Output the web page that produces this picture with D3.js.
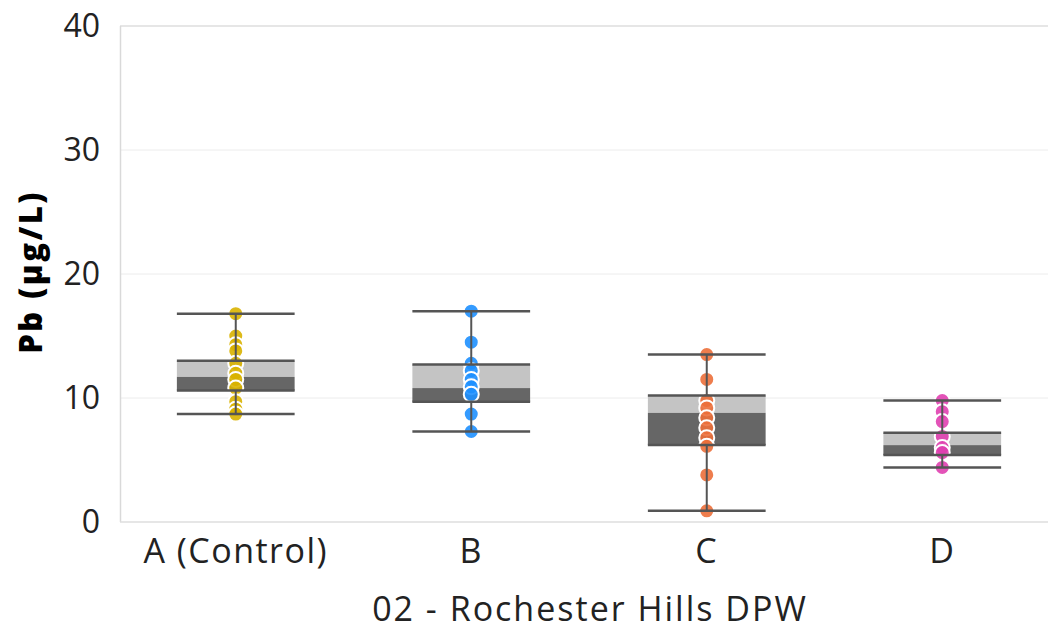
<!DOCTYPE html>
<html>
<head>
<meta charset="utf-8">
<script src="https://cdn.jsdelivr.net/npm/d3@7"></script>
<style>
  html, body { margin: 0; padding: 0; background: #fff; }
  svg { display: block; font-family: "Open Sans", "Noto Sans", sans-serif; }
</style>
</head>
<body>
<svg id="chart" width="1048" height="631"></svg>
<script>
// Sites along the x axis
const categories = ["A (Control)", "B", "C", "D"];
const pointColors = ["#d9b300", "#1e90ff", "#ec6f3a", "#e040b0"];

// Box summary per site: [min, q1, median, q3, max] in µg/L
const boxMin    = [8.7, 7.3, 0.9, 4.4];
const boxQ1     = [10.6, 9.7, 6.2, 5.4];
const boxMedian = [11.7, 10.8, 8.8, 6.2];
const boxQ3     = [13.0, 12.7, 10.2, 7.2];
const boxMax    = [16.8, 17.0, 13.5, 9.8];

// Individual samples per site (µg/L)
const samplesA = [16.8, 15.0, 14.3, 13.8, 12.8, 12.0, 11.5, 10.8, 9.7, 9.1, 8.7];
const samplesB = [17.0, 14.5, 12.8, 12.2, 11.5, 10.9, 10.3, 8.7, 7.3];
const samplesC = [13.5, 11.5, 9.8, 9.2, 8.4, 7.6, 6.8, 6.1, 3.8, 0.9];
const samplesD = [9.8, 8.9, 8.1, 6.9, 6.0, 5.6, 4.4];
const samples = [samplesA, samplesB, samplesC, samplesD];

// Axis ticks
const yTicks = [0, 10, 20, 30, 40];
const yTitle = "Pb (µg/L)";
const xTitle = "02 - Rochester Hills DPW";

const svg = d3.select("#chart");

const x = d3.scaleBand().domain(categories).range([118, 1060]).padding(0);
const y = d3.scaleLinear().domain([0, 40]).range([522, 26]);
const boxW = x.bandwidth() * 0.5;

// Gridlines
svg.append("g")
  .selectAll("line")
  .data(yTicks.filter(t => t > 0 && t < 40))
  .join("line")
  .attr("x1", 120).attr("x2", 1048)
  .attr("y1", d => y(d)).attr("y2", d => y(d))
  .attr("stroke", "#ececec").attr("stroke-width", 1);

// Top border
svg.append("line")
  .attr("x1", 120).attr("x2", 1048)
  .attr("y1", y(40)).attr("y2", y(40))
  .attr("stroke", "#e6e6e6").attr("stroke-width", 2);

// Left and bottom axis lines
svg.append("line")
  .attr("x1", 120.5).attr("x2", 120.5)
  .attr("y1", y(40)).attr("y2", y(0))
  .attr("stroke", "#d9d9d9").attr("stroke-width", 1.5);
svg.append("line")
  .attr("x1", 120).attr("x2", 1048)
  .attr("y1", y(0)).attr("y2", y(0))
  .attr("stroke", "#dedede").attr("stroke-width", 1.5);

// Y axis tick labels
const yAxis = d3.axisLeft(y).tickValues(yTicks).tickSize(0).tickPadding(0);
const yG = svg.append("g").attr("transform", "translate(100,0)").call(yAxis);
yG.select(".domain").remove();
yG.selectAll("text")
  .attr("font-size", 32)
  .attr("font-family", "'Open Sans', sans-serif")
  .attr("fill", "#222");

// X axis category labels
const xAxis = d3.axisBottom(x).tickSize(0).tickPadding(0);
const xG = svg.append("g").attr("transform", "translate(0,563)").call(xAxis);
xG.select(".domain").remove();
xG.selectAll("text")
  .attr("y", 0).attr("dy", 0)
  .attr("font-size", 34)
  .attr("letter-spacing", 1.5)
  .attr("font-family", "'Open Sans', sans-serif")
  .attr("fill", "#222");

// Axis titles
svg.append("text")
  .attr("x", 590).attr("y", 621)
  .attr("text-anchor", "middle")
  .attr("font-size", 34)
  .attr("letter-spacing", 2)
  .attr("fill", "#222")
  .text(xTitle);

svg.append("text")
  .attr("transform", "translate(42,272) rotate(-90)")
  .attr("text-anchor", "middle")
  .attr("font-size", 31)
  .attr("letter-spacing", 2.5)
  .attr("font-weight", 800)
  .attr("fill", "#000")
  .text(yTitle);

const stats = categories.map((c, i) => ({
  cat: c, min: boxMin[i], q1: boxQ1[i], med: boxMedian[i], q3: boxQ3[i], max: boxMax[i],
  color: pointColors[i], pts: samples[i]
}));

// Box fills: dark lower half (q1-median), light upper half (median-q3)
const boxes = svg.append("g");
stats.forEach(s => {
  const cx = x(s.cat) + x.bandwidth() / 2;
  boxes.append("rect")
    .attr("x", cx - boxW / 2).attr("width", boxW)
    .attr("y", y(s.q3)).attr("height", y(s.med) - y(s.q3))
    .attr("fill", "#c4c4c4");
  boxes.append("rect")
    .attr("x", cx - boxW / 2).attr("width", boxW)
    .attr("y", y(s.med)).attr("height", y(s.q1) - y(s.med))
    .attr("fill", "#666666");
});

// Sample points
const pts = svg.append("g");
stats.forEach(s => {
  const cx = x(s.cat) + x.bandwidth() / 2;
  pts.selectAll(null)
    .data(s.pts)
    .join("circle")
    .attr("cx", cx)
    .attr("cy", d => y(d))
    .attr("r", 7.5)
    .attr("fill", s.color)
    .attr("fill-opacity", 0.9)
    .attr("stroke", "#fff")
    .attr("stroke-width", 2);
});

// Whiskers, caps and box edges drawn over the points
const lines = svg.append("g").attr("stroke", "#555").attr("stroke-linecap", "butt");
stats.forEach(s => {
  const cx = x(s.cat) + x.bandwidth() / 2;
  lines.append("line")
    .attr("x1", cx).attr("x2", cx)
    .attr("y1", y(s.max)).attr("y2", y(s.q3))
    .attr("stroke-width", 2);
  lines.append("line")
    .attr("x1", cx).attr("x2", cx)
    .attr("y1", y(s.q1)).attr("y2", y(s.min))
    .attr("stroke-width", 2);
  [s.min, s.max, s.q1, s.q3].forEach(v => {
    lines.append("line")
      .attr("x1", cx - boxW / 2).attr("x2", cx + boxW / 2)
      .attr("y1", y(v)).attr("y2", y(v))
      .attr("stroke-width", 2.5);
  });
});
</script>
</body>
</html>
